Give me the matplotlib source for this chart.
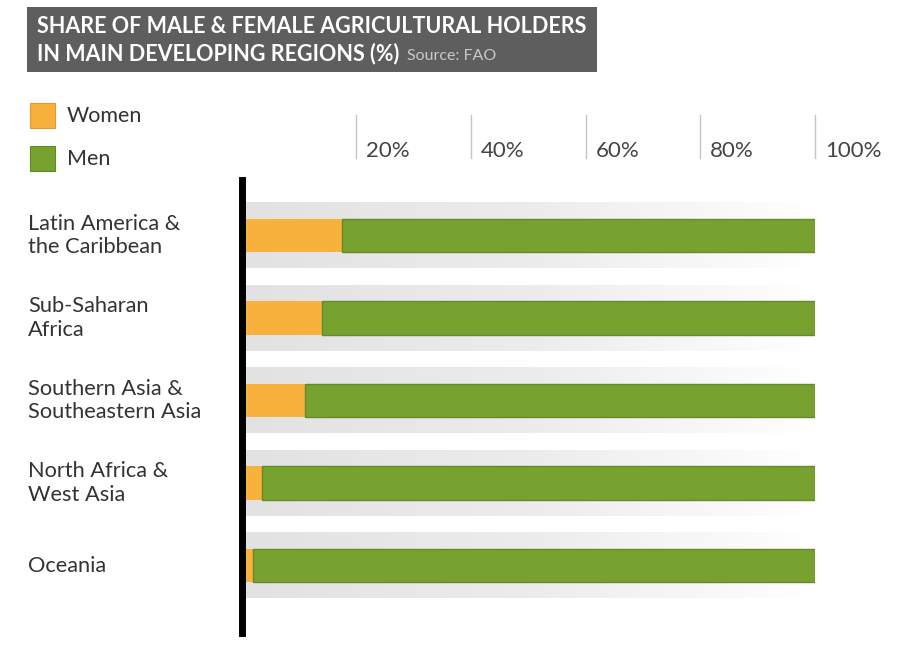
# Share of male & female agricultural holders - horizontal stacked bars
import numpy as np
import matplotlib
matplotlib.use("Agg")
from matplotlib import pyplot as plt
from matplotlib.colors import LinearSegmentedColormap
from matplotlib.patches import Rectangle
from matplotlib.transforms import blended_transform_factory

# data
regions = ["Latin America &\nthe Caribbean", "Sub-Saharan\nAfrica", "Southern Asia &\nSoutheastern Asia",
           "North Africa &\nWest Asia", "Oceania"]
women = [17.5, 14, 11, 3.5, 2]
men = [100 - w for w in women]
tick_vals = [20, 40, 60, 80, 100]
tick_labels = ["20%", "40%", "60%", "80%", "100%"]

# fonts
plt.rcParams["font.family"] = ["Lato", "DejaVu Sans"]

W, H = 902, 660
fig = plt.figure(figsize=(W / 100, H / 100), dpi=100)
fig.patch.set_facecolor("white")


def fx(px):
    return px / W


def fy(py):
    return 1 - py / H


# axes
ax = fig.add_axes([fx(241.5), fy(633), (815 - 241.5) / W, (633 - 180) / H])
y = np.arange(len(regions))

# title box
fig.patches.append(Rectangle((fx(27), fy(72)), fx(570), 65 / H, transform=fig.transFigure,
                             facecolor="#5e5e5e", edgecolor="none"))
fig.text(fx(37), fy(33), "SHARE OF MALE & FEMALE AGRICULTURAL HOLDERS", color="white",
         fontsize=15.5, fontweight="bold", va="baseline")
t2 = fig.text(fx(37), fy(60), "IN MAIN DEVELOPING REGIONS (%)", color="white",
              fontsize=15.5, fontweight="bold", va="baseline")
fig.canvas.draw()
end_x = t2.get_window_extent().x1
fig.text((end_x + 8) / W, fy(60), "Source: FAO", color="#c9c9c9", fontsize=11.5, va="baseline")

# legend
fig.patches.append(Rectangle((fx(30), fy(128)), fx(25), 25 / H, transform=fig.transFigure,
                             facecolor="#f8b13d", edgecolor="#e49a2a", lw=0.8))
fig.patches.append(Rectangle((fx(30), fy(171)), fx(25), 25 / H, transform=fig.transFigure,
                             facecolor="#78a22f", edgecolor="#5f8a22", lw=0.8))
fig.text(fx(67), fy(116), "Women", fontsize=15.5, color="#333333", va="center")
fig.text(fx(67), fy(159), "Men", fontsize=15.5, color="#333333", va="center")

# grey fading bands behind bars
band_cmap = LinearSegmentedColormap.from_list("band", ["#e2e2e2", "#ececec", "#ffffff"])
grad = np.linspace(0, 1, 256).reshape(1, -1)
for i in y:
    ax.imshow(grad, cmap=band_cmap, aspect="auto", extent=(0, 100, i + 0.395, i - 0.395),
              zorder=1, interpolation="bilinear")

ax.barh(y, women, height=0.41, color="#f8b13d", edgecolor="none", zorder=3)
ax.barh(y, men, left=women, height=0.41, color="#78a22f", edgecolor="#65892c", lw=1, zorder=3)

ax.set_xlim(0, 100)
ax.set_ylim(4.818, -0.673)
ax.set_xticks([])
ax.set_yticks([])
for s in ["top", "right", "bottom"]:
    ax.spines[s].set_visible(False)
ax.spines["left"].set_linewidth(5)
ax.spines["left"].set_color("black")
ax.spines["left"].set_zorder(5)

# region labels
lab_tr = blended_transform_factory(fig.transFigure, ax.transData)
for i, r in enumerate(regions):
    ax.text(fx(28), i, r, transform=lab_tr, fontsize=15.7, color="#333333",
            va="center", ha="left", linespacing=1.22)

# top percentage scale
top_tr = blended_transform_factory(ax.transData, fig.transFigure)
for v, t in zip(tick_vals, tick_labels):
    ax.plot([v, v], [fy(115), fy(158)], transform=top_tr, color="#c4c4c4", lw=1, clip_on=False)
    ax.text(v + 1.75, fy(157), t, transform=top_tr, fontsize=16, color="#444444",
            va="baseline", ha="left")

plt.savefig("out.png", dpi=100)
